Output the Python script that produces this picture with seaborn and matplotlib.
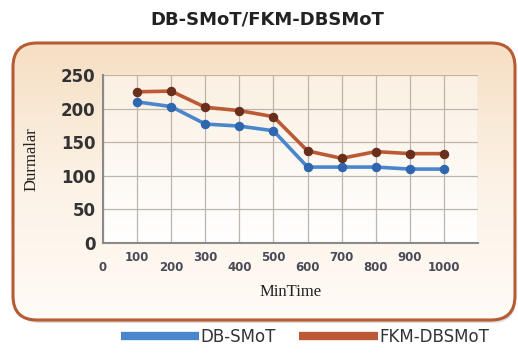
import numpy as np
import pandas as pd
import matplotlib
matplotlib.use("Agg")
import matplotlib.pyplot as plt
import seaborn as sns
from matplotlib.patches import FancyBboxPatch
from matplotlib.lines import Line2D
from matplotlib.colors import LinearSegmentedColormap

# ---- data ----
min_time = [100, 200, 300, 400, 500, 600, 700, 800, 900, 1000]
db_smot = [210, 203, 177, 174, 167, 113, 113, 113, 110, 110]
fkm_dbsmot = [225, 226, 202, 197, 188, 137, 126, 136, 133, 133]
series_names = ["DB-SMoT", "FKM-DBSMoT"]
x_tick_values = [0, 100, 200, 300, 400, 500, 600, 700, 800, 900, 1000, 1100]
x_tick_labels = ["0", "100", "200", "300", "400", "500", "600", "700", "800", "900", "1000", ""]
y_tick_values = [0, 50, 100, 150, 200, 250]
title_text = "DB-SMoT/FKM-DBSMoT"
x_label = "MinTime"
y_label = "Durmalar"

sns.set_style("white")
plt.rcParams["font.family"] = ["DejaVu Sans"]

line_colors = ["#4a86cc", "#bb5a34"]
marker_colors = ["#2f66b0", "#6a2e1c"]

fig = plt.figure(figsize=(5.18, 3.56), dpi=100)

# ---- background rounded box with gradient ----
bg = fig.add_axes([0, 0, 1, 1])
bg.axis("off")
shadow = FancyBboxPatch((16, 47), 500, 276, boxstyle="round,pad=0,rounding_size=24",
                        fc="#8a8a8a", ec="none", alpha=0.3, zorder=0)
bg.add_patch(shadow)
box = FancyBboxPatch((13, 43), 502, 277, boxstyle="round,pad=0,rounding_size=24",
                     fc="none", ec="#b65b33", lw=2.2, zorder=3)
bg.add_patch(box)
grad = np.linspace(0, 1, 256).reshape(-1, 1)
cmap_box = LinearSegmentedColormap.from_list("gbox", ["#f6dfc3", "#fcf2e6", "#fffbf6"])
im = bg.imshow(grad, extent=[13, 515, 320, 43], cmap=cmap_box, aspect="auto", zorder=1)
im.set_clip_path(box)
bg.set_xlim(0, 518)
bg.set_ylim(356, 0)

# ---- main axes ----
ax = fig.add_axes([103 / 518, 1 - 243 / 356, 375 / 518, 168 / 356])
ax.patch.set_alpha(0)
cmap_ax = LinearSegmentedColormap.from_list("gax", ["#fbf0e2", "#fdf8f2", "#ffffff"])
ax.imshow(grad, extent=[0, 1100, 0, 250], cmap=cmap_ax, aspect="auto", zorder=0)

for vals, lc, mc in zip([db_smot, fkm_dbsmot], line_colors, marker_colors):
    sns.lineplot(x=min_time, y=vals, ax=ax, color=lc, linewidth=2.6, marker="o",
                 markersize=6, markerfacecolor=mc, markeredgecolor=mc,
                 markeredgewidth=0.8, zorder=3, clip_on=False)

ax.set_xlim(0, 1100)
ax.set_ylim(0, 250)
ax.set_xticks(x_tick_values)
ax.set_xticklabels(x_tick_labels, fontsize=8.5, fontweight="bold", color="#4a4a58")
ax.set_yticks(y_tick_values)
ax.set_yticklabels([str(v) for v in y_tick_values], fontsize=12, fontweight="bold", color="#333333")
ax.tick_params(axis="both", direction="out", length=3.5, width=1, color="#777777")
ax.tick_params(axis="y", pad=2)
for i, t in enumerate(ax.xaxis.get_major_ticks()):
    t.set_pad(2.5 if i % 2 else 9.5)

ax.grid(True, color="#bdb5ab", lw=0.9)
ax.set_axisbelow(True)
for s in ["top", "right"]:
    ax.spines[s].set_visible(False)
for s in ["left", "bottom"]:
    ax.spines[s].set_color("#8a8a8a")
    ax.spines[s].set_linewidth(1.5)

ax.set_xlabel(x_label, family="Liberation Serif", fontsize=12, color="#222222", labelpad=7)
ax.set_ylabel(y_label, family="Liberation Serif", fontsize=12, color="#222222", labelpad=15)

fig.text(267 / 518, 1 - 20 / 356, title_text, ha="center", va="center",
         fontsize=13, fontweight="bold", color="#222222")

handles = [Line2D([], [], color=c, lw=6, solid_capstyle="butt") for c in line_colors]
fig.legend(handles, series_names, loc="center", bbox_to_anchor=(305 / 518, 1 - 337 / 356),
           ncol=2, frameon=False, fontsize=12, handlelength=4.7, handletextpad=0.1,
           columnspacing=1.4, labelcolor="#333333")

fig.savefig("out.png", dpi=100)
